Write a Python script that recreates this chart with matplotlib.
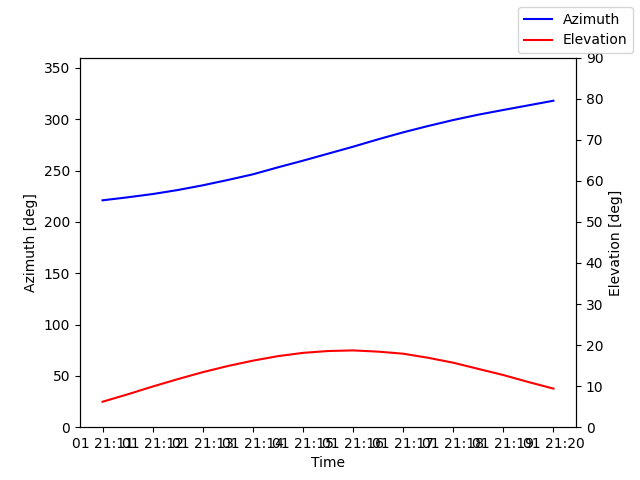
import datetime as dt
import matplotlib
matplotlib.use('Agg')
import matplotlib.pyplot as plt

# one point every 30 s, 21:11 .. 21:20
start = dt.datetime(2024, 1, 1, 21, 11)
times = [start + dt.timedelta(seconds=30 * i) for i in range(19)]
azimuth = [221.0, 223.9, 227.1, 231.0, 235.6, 240.8, 246.3, 253.1, 259.6, 266.4,
           273.2, 280.4, 287.2, 293.4, 299.2, 304.4, 309.0, 313.5, 318.0]
elevation = [6.2, 8.0, 9.9, 11.7, 13.4, 14.9, 16.2, 17.3, 18.1, 18.55,
             18.7, 18.4, 17.9, 16.9, 15.7, 14.2, 12.7, 11.0, 9.4]

fig, ax1 = plt.subplots(figsize=(6.4, 4.8), dpi=100)
ax1.plot(times, azimuth, color='blue', label='Azimuth')
ax1.set_ylim(0, 360)
ax1.set_xlabel('Time')
ax1.set_ylabel('Azimuth [deg]')

ax2 = ax1.twinx()
ax2.plot(times, elevation, color='red', label='Elevation')
ax2.set_ylim(0, 90)
ax2.set_ylabel('Elevation [deg]')

fig.legend()
fig.savefig('out.png')
